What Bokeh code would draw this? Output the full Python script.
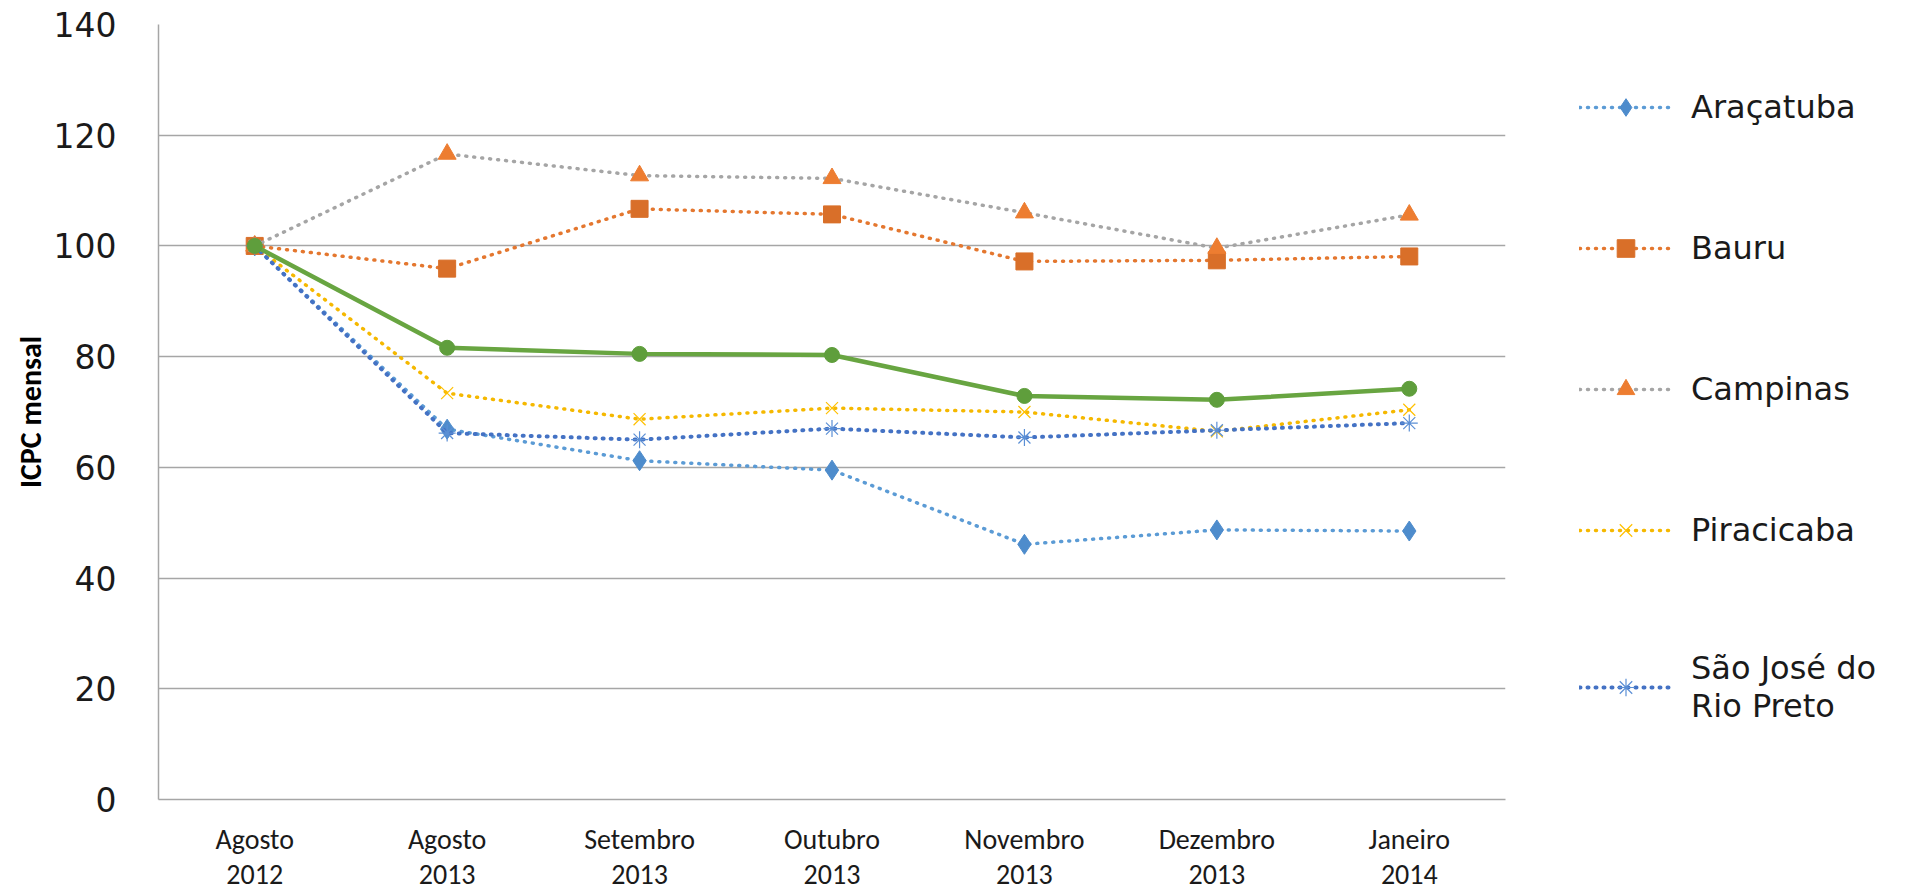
from bokeh.plotting import figure
from bokeh.layouts import row
from bokeh.models import FactorRange, Range1d, FixedTicker, Legend, LegendItem
from bokeh.embed import file_html
from bokeh.resources import INLINE

# ---- data ----
months = ["Agosto\n2012", "Agosto\n2013", "Setembro\n2013", "Outubro\n2013",
          "Novembro\n2013", "Dezembro\n2013", "Janeiro\n2014"]
aracatuba = [100, 66.9, 61.2, 59.5, 46.1, 48.7, 48.5]
bauru = [100, 95.9, 106.7, 105.7, 97.2, 97.4, 98.1]
campinas = [100, 116.6, 112.7, 112.2, 106.0, 99.6, 105.6]
piracicaba = [100, 73.4, 68.7, 70.7, 70.0, 66.5, 70.4]
sao_jose = [100, 66.2, 65.0, 67.0, 65.4, 66.7, 68.0]
media = [100, 81.6, 80.5, 80.3, 72.9, 72.2, 74.2]
y_ticks = [0, 20, 40, 60, 80, 100, 120, 140]
series_names = ["Araçatuba", "Bauru", "Campinas", "Piracicaba", "São José do\nRio Preto"]

NARROW = "'Liberation Sans Narrow', Carlito, 'Liberation Sans', sans-serif"
WIDE = "'DejaVu Sans', Verdana, sans-serif"

H = 894
MAIN_W = 1506
LEG_W = 1899 - MAIN_W

p = figure(width=MAIN_W, height=H, x_range=FactorRange(*months, range_padding=0),
           y_range=Range1d(0, 140), output_backend="svg", toolbar_location=None,
           min_border_left=158, min_border_right=1, min_border_top=24,
           min_border_bottom=85)
p.outline_line_color = None
p.background_fill_color = "white"
p.border_fill_color = "white"

# axes
p.yaxis.ticker = FixedTicker(ticks=y_ticks)
p.yaxis.major_tick_out = 0
p.yaxis.major_tick_in = 0
p.yaxis.minor_tick_out = 0
p.yaxis.minor_tick_in = 0
p.yaxis.major_label_standoff = 42
p.yaxis.major_label_text_font = WIDE
p.yaxis.major_label_text_font_size = "33px"
p.yaxis.major_label_text_color = "#1a1a1a"
p.yaxis.axis_line_color = "#a6a6a6"
p.yaxis.axis_line_width = 1.5
p.yaxis.axis_label = "ICPC mensal"
p.yaxis.axis_label_text_font = NARROW
p.yaxis.axis_label_text_font_style = "bold"
p.yaxis.axis_label_text_font_size = "30px"
p.yaxis.axis_label_text_color = "#000000"
p.yaxis.axis_label_standoff = 2

p.xaxis.major_tick_out = 0
p.xaxis.major_tick_in = 0
p.xaxis.major_label_standoff = 22
p.xaxis.major_label_text_font = NARROW
p.xaxis.major_label_text_font_size = "28px"
p.xaxis.major_label_text_color = "#1a1a1a"
p.xaxis.major_label_text_line_height = 1.0
p.xaxis.axis_line_color = "#a6a6a6"
p.xaxis.axis_line_width = 1.5

p.xgrid.grid_line_color = None
p.ygrid.grid_line_color = "#a6a6a6"
p.ygrid.grid_line_width = 1.5

DOT = "1 7"

# legend figure: same series drawn outside its visible y range, used only for legend glyphs
lf = figure(width=LEG_W, height=H, output_backend="svg", toolbar_location=None,
            min_border=0, x_range=FactorRange(*months), y_range=Range1d(500, 600))
lf.axis.visible = False
lf.grid.visible = False
lf.outline_line_color = None
lf.background_fill_color = "white"
lf.border_fill_color = "white"

items = []

def add(vals, line_color, lw, dash, marker, m_fill, m_line, msize, name=None, mlw=1):
    kw_line = dict(line_color=line_color, line_width=lw, line_dash=dash, line_cap="round")
    kw_sc = dict(marker=marker, size=msize, fill_color=m_fill, line_color=m_line,
                 line_width=mlw)
    p.line(months, vals, **kw_line)
    p.scatter(months, vals, **kw_sc)
    if name is not None:
        lr = lf.line(months, vals, **kw_line)
        sr = lf.scatter(months, vals, **dict(kw_sc, size=msize * 0.8))
        items.append(LegendItem(label=name, renderers=[lr, sr]))

add(aracatuba, "#5b9bd5", 3.5, DOT, "diamond", "#4e8ccc", "#4e8ccc", 20, series_names[0])
add(bauru, "#e4772f", 3.5, DOT, "square", "#d96f29", "#d96f29", 17, series_names[1])
add(campinas, "#a5a5a5", 3.5, DOT, "triangle", "#ed7d31", "#ed7d31", 18, series_names[2])
add(piracicaba, "#f5b800", 3.5, DOT, "x", None, "#ffc000", 17, series_names[3], mlw=1.2)
add(sao_jose, "#4472c4", 4, DOT, "asterisk", None, "#5b8fd5", 17, series_names[4], mlw=1.2)
add(media, "#68a541", 4.5, "solid", "circle", "#5f9e3c", "#5f9e3c", 15, None)

legend = Legend(items=items, location=(73, 74), orientation="vertical",
                padding=0, margin=0, spacing=97, glyph_width=93, glyph_height=44,
                label_height=44, label_standoff=19,
                label_text_font=WIDE, label_text_font_size="32px",
                label_text_color="#1a1a1a", border_line_color=None,
                background_fill_alpha=0)
lf.add_layout(legend, "center")

layout = row(p, lf, spacing=0)
open("out.html", "w").write(file_html(layout, INLINE))
